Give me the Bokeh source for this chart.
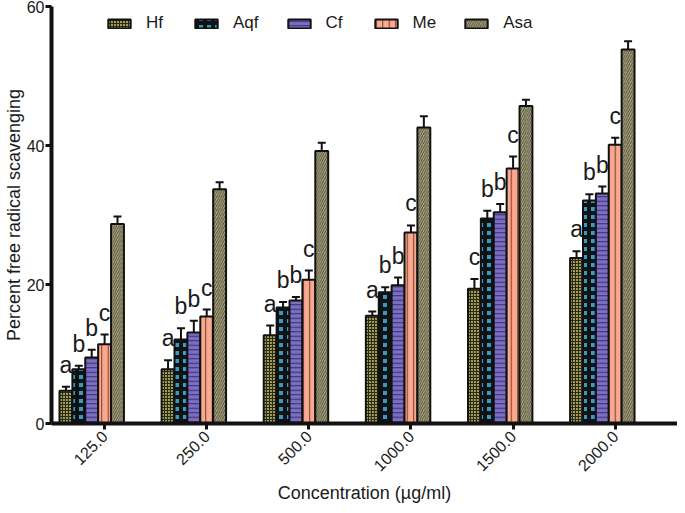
import math
from bokeh.plotting import figure
from bokeh.models import (ColumnDataSource, Range1d, FixedTicker, Whisker, TeeHead,
                          Legend, LegendItem, LabelSet)
from bokeh.core.properties import value
from bokeh.embed import file_html
from bokeh.resources import INLINE

# ---------------- data ----------------
concentrations = ["125.0", "250.0", "500.0", "1000.0", "1500.0", "2000.0"]
series_names = ["Hf", "Aqf", "Cf", "Me", "Asa"]

hf = [4.7, 7.8, 12.7, 15.5, 19.4, 23.8]
hf_err = [0.6, 1.3, 1.4, 0.6, 1.4, 1.0]
aqf = [7.8, 12.1, 16.7, 18.9, 29.5, 32.1]
aqf_err = [0.5, 1.6, 0.8, 0.7, 1.1, 0.9]
cf = [9.5, 13.1, 17.7, 19.9, 30.4, 33.1]
cf_err = [1.1, 1.7, 0.5, 1.1, 1.2, 1.0]
me = [11.4, 15.4, 20.7, 27.5, 36.7, 40.1]
me_err = [1.4, 1.0, 1.3, 1.0, 1.7, 1.0]
asa = [28.7, 33.7, 39.2, 42.6, 45.7, 53.8]
asa_err = [1.1, 1.0, 1.2, 1.6, 0.9, 1.2]

hf_letters = ["a", "a", "a", "a", "c", "a"]
aqf_letters = ["b", "b", "b", "b", "b", "b"]
cf_letters = ["b", "b", "b", "b", "b", "b"]
me_letters = ["c", "c", "c", "c", "c", "c"]
asa_letters = ["", "", "", "", "", ""]

y_ticks = [0, 20, 40, 60]

# ---------------- styles ----------------
FONT = "Liberation Sans"
W = 13.0 / 103.0  # bar width in group units
styles = [
    dict(fill="#a39d55", hatch="cross", hcolor="#2a2a18", scale=3.0, weight=1.1),
    dict(fill="#2f9cc9", hatch="cross", hcolor="#111111", scale=8.0, weight=4.0),
    dict(fill="#7c70c4", hatch="horizontal_line", hcolor="#3e3478", scale=4.5, weight=1.2),
    dict(fill="#f8a98f", hatch="vertical_line", hcolor="#7a3a28", scale=6.5, weight=1.0),
    dict(fill="#aca681", hatch="right_diagonal_line", hcolor="#45412f", scale=4.5, weight=0.9),
]

values = [hf, aqf, cf, me, asa]
errors = [hf_err, aqf_err, cf_err, me_err, asa_err]
letters = [hf_letters, aqf_letters, cf_letters, me_letters, asa_letters]

FIG_W, FIG_H = 677, 505
B_TOP, B_BOTTOM, B_LEFT = 6, 82, 46

p = figure(width=FIG_W, height=FIG_H, output_backend="svg", toolbar_location=None,
           x_range=Range1d(-0.52, 5.61), y_range=Range1d(0, 60),
           min_border_left=B_LEFT, min_border_right=0, min_border_top=B_TOP,
           min_border_bottom=B_BOTTOM)
p.outline_line_color = None
p.xgrid.visible = False
p.ygrid.visible = False
p.background_fill_color = "white"

legend_items = []
for j, name in enumerate(series_names):
    st = styles[j]
    xs = [g + (j - 3) * W for g in range(len(concentrations))]
    tops = values[j]
    ups = [t + e for t, e in zip(tops, errors[j])]
    src = ColumnDataSource(dict(x=xs, top=tops, up=ups, lab=letters[j]))
    r = p.vbar(x="x", top="top", bottom=0, width=W, source=src,
               fill_color=st["fill"], line_color="#111111", line_width=2,
               hatch_pattern=st["hatch"], hatch_color=st["hcolor"],
               hatch_scale=st["scale"], hatch_weight=st["weight"])
    legend_items.append(LegendItem(label=name, renderers=[r]))
    wh = Whisker(source=src, base="x", lower="top", upper="up", dimension="height",
                 line_color="#111111", line_width=2,
                 upper_head=TeeHead(size=8, line_width=2, line_color="#111111"),
                 lower_head=None)
    p.add_layout(wh)
    ls = LabelSet(source=src, x="x", y="up", text="lab", text_align="center",
                  text_baseline="alphabetic", y_offset=14,
                  text_font=value(FONT), text_font_size="23px", text_color="#1a1a1a")
    p.add_layout(ls)

frame_h = FIG_H - B_TOP - B_BOTTOM
legend = Legend(items=legend_items, orientation="horizontal",
                location=(54, frame_h - 27),
                border_line_alpha=0, background_fill_alpha=0,
                glyph_width=28, glyph_height=11, label_standoff=13, spacing=26,
                padding=0, margin=0,
                label_text_font=FONT, label_text_font_size="17px",
                label_text_color="#1a1a1a")
p.add_layout(legend)

# axes
for ax in (p.xaxis[0], p.yaxis[0]):
    ax.axis_line_width = 4
    ax.axis_line_color = "#111111"
    ax.major_tick_line_width = 3
    ax.major_tick_line_color = "#111111"
    ax.major_tick_out = 6
    ax.major_tick_in = 0
    ax.minor_tick_line_color = None
    ax.major_label_text_font = FONT
    ax.major_label_text_font_size = "16px"
    ax.major_label_text_color = "#1a1a1a"
    ax.axis_label_text_font = FONT
    ax.axis_label_text_font_size = "18px"
    ax.axis_label_text_font_style = "normal"
    ax.axis_label_text_color = "#1a1a1a"

p.yaxis.ticker = FixedTicker(ticks=y_ticks)
p.yaxis.axis_label = "Percent free radical scavenging"
p.yaxis.axis_label_standoff = 0
p.yaxis.major_label_standoff = 1

p.xaxis.ticker = FixedTicker(ticks=list(range(len(concentrations))))
p.xaxis.major_label_overrides = {i: c for i, c in enumerate(concentrations)}
p.xaxis.major_label_orientation = math.pi / 4
p.xaxis.axis_label = "Concentration (µg/ml)"
p.xaxis.axis_label_standoff = 3
p.xaxis.major_label_standoff = 4

open("out.html", "w").write(file_html(p, INLINE))
